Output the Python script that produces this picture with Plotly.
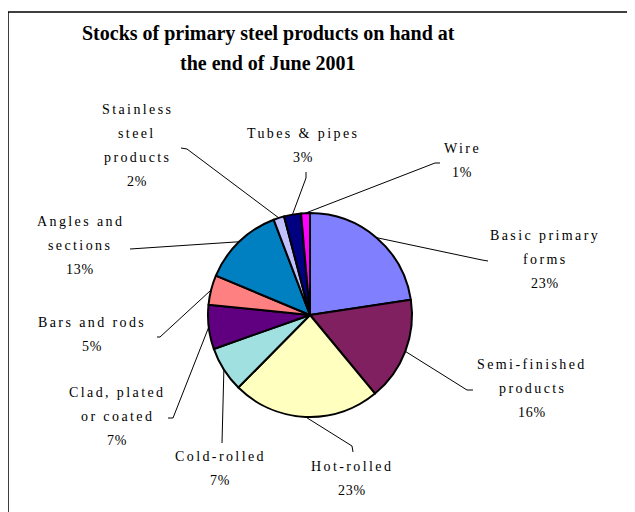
import math
import plotly.graph_objects as go

# ---------------- data ----------------
categories = ["Basic primary forms", "Semi-finished products", "Hot-rolled", "Cold-rolled",
              "Clad, plated or coated", "Bars and rods", "Angles and sections",
              "Stainless steel products", "Tubes & pipes", "Wire"]
values = [22.6, 16.4, 23.4, 7.2, 7.0, 4.7, 12.9, 1.7, 2.7, 1.4]
label_lines = [["Basic primary", "forms"], ["Semi-finished", "products"], ["Hot-rolled"],
               ["Cold-rolled"], ["Clad, plated", "or coated"], ["Bars and rods"],
               ["Angles and", "sections"], ["Stainless", "steel", "products"],
               ["Tubes & pipes"], ["Wire"]]
title_lines = ["Stocks of primary steel products on hand at", "the end of June 2001"]

# ---------------- styling / layout ----------------
colors = ["#8080FF", "#802060", "#FFFFC0", "#A0E0E0", "#600080", "#FF8080",
          "#0080C0", "#C0C0FF", "#000080", "#FF00FF"]
W, H = 635, 512
OX, OY = 8, 8                      # page body margin offset
CX, CY, R = 310, 315, 102          # pie centre / radius in screen pixels
LINE_STEP = 24                     # label line spacing (px)
# label first-line centre (x, y), leader elbow, leader end (screen px)
label_pos = [(545, 235), (532, 364), (352, 466), (220, 456), (117, 392),
             (92, 322), (80, 221), (137, 109), (303, 133), (462, 148)]
elbows = [(482, 260), (467, 390), (352, 446), (222, 443), (173, 418),
          (160, 337), (130, 249), (187, 149), (306, 178), (435, 163)]
ends = [(488, 261), (473, 390), (353, 452), (222, 443), (168, 418),
        (157, 337), (130, 249), (181, 148), (306, 172), (440, 163)]

FONT = "Liberation Serif, Times New Roman, serif"


def px(x):
    return (x - OX) / W


def py(y):
    return 1 - (y - OY) / H


fig = go.Figure(go.Pie(
    values=values, labels=categories, sort=False, direction="clockwise", rotation=0,
    marker=dict(colors=colors, line=dict(color="black", width=2)),
    textinfo="none", hoverinfo="label+percent", showlegend=False,
    domain=dict(x=[px(CX - R), px(CX + R)], y=[py(CY + R), py(CY - R)]),
))

total = sum(values)
annotations = []
shapes = []

# title
for i, t in enumerate(title_lines):
    annotations.append(dict(x=px(268), y=py(33 + 30 * i), xref="paper", yref="paper",
                            text="<b>" + t + "</b>", showarrow=False,
                            xanchor="center", yanchor="middle",
                            font=dict(family=FONT, size=20, color="black")))

cum = 0.0
for i, v in enumerate(values):
    mid = (cum + v / 2) / total * 2 * math.pi
    cum += v
    sx = CX + R * math.sin(mid)
    sy = CY - R * math.cos(mid)
    ex, ey = elbows[i]
    tx, ty = ends[i]
    shapes.append(dict(type="line", xref="paper", yref="paper",
                       x0=px(sx), y0=py(sy), x1=px(ex), y1=py(ey),
                       line=dict(color="black", width=1)))
    if (ex, ey) != (tx, ty):
        shapes.append(dict(type="line", xref="paper", yref="paper",
                           x0=px(ex), y0=py(ey), x1=px(tx), y1=py(ty),
                           line=dict(color="black", width=1)))
    lx, ly = label_pos[i]
    lines = list(label_lines[i])
    pct = f"{round(v / total * 100)}%"
    for j, ln in enumerate(lines + [pct]):
        spacing = "2.4px" if j < len(lines) else "0.8px"
        annotations.append(dict(x=px(lx), y=py(ly + LINE_STEP * j), xref="paper", yref="paper",
                                text=f'<span style="letter-spacing:{spacing}">{ln}</span>',
                                showarrow=False, xanchor="center", yanchor="middle",
                                font=dict(family=FONT, size=14, color="black")))

# outer frame
shapes.append(dict(type="rect", xref="paper", yref="paper",
                   x0=px(8), x1=px(629), y0=-0.1, y1=py(12),
                   line=dict(color="black", width=1.5), fillcolor="rgba(0,0,0,0)"))

fig.update_layout(width=W, height=H, margin=dict(l=0, r=0, t=0, b=0),
                  paper_bgcolor="white", plot_bgcolor="white",
                  annotations=annotations, shapes=shapes)

fig.write_html("out.html")
